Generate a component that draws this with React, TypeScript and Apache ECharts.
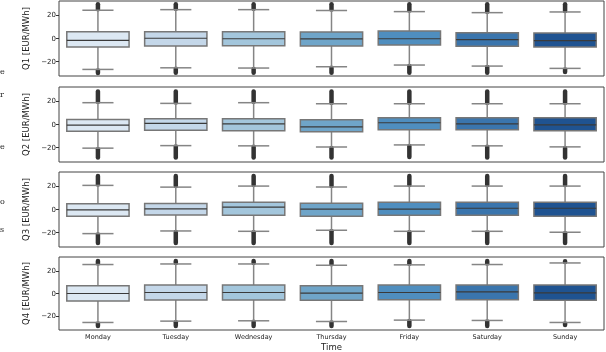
import React, { useEffect, useRef } from "react";
import * as echarts from "echarts";

const days = ["Monday", "Tuesday", "Wednesday", "Thursday", "Friday", "Saturday", "Sunday"];
const quarterNames = ["Q1 [EUR/MWh]", "Q2 [EUR/MWh]", "Q3 [EUR/MWh]", "Q4 [EUR/MWh]"];
const boxColors = ["#dce8f3", "#c4d7e9", "#a3c6dc", "#6fa5c9", "#4f8ebf", "#3a75ad", "#1f5391"];
const yTicks = [-20, 0, 20];

// per day: [lower whisker, Q1, median, Q3, upper whisker]
const statsQ1 = [
  [-26.8, -7.4, -1.6, 5.9, 24.5],
  [-25.4, -6.5, 0.2, 5.9, 25.0],
  [-25.6, -6.3, -0.2, 5.9, 25.0],
  [-24.5, -6.5, -0.4, 5.6, 24.2],
  [-23.0, -5.6, -0.2, 6.5, 23.3],
  [-23.9, -6.8, -1.0, 5.0, 22.4],
  [-25.9, -7.4, -1.9, 4.8, 23.0],
];
const statsQ2 = [
  [-20.5, -5.8, -0.5, 4.3, 18.9],
  [-18.3, -4.9, 0.9, 5.0, 18.3],
  [-18.5, -5.5, 0.6, 4.9, 18.9],
  [-19.4, -6.3, -2.0, 4.1, 18.0],
  [-17.7, -4.6, 1.5, 5.8, 18.0],
  [-18.5, -4.6, 0.6, 5.8, 18.0],
  [-19.4, -5.5, -0.3, 5.8, 18.0],
];
const statsQ3 = [
  [-20.9, -5.8, -0.3, 4.9, 20.9],
  [-18.6, -4.7, 0.5, 5.2, 19.4],
  [-18.9, -5.0, 2.0, 6.3, 20.3],
  [-18.0, -5.8, 0.3, 5.5, 19.4],
  [-18.9, -5.0, 0.3, 6.3, 20.3],
  [-18.9, -5.0, 1.1, 6.3, 20.3],
  [-19.7, -5.8, 1.1, 6.3, 20.3],
];
const statsQ4 = [
  [-25.8, -6.7, 0.0, 7.0, 25.8],
  [-24.6, -5.8, 0.9, 7.5, 26.3],
  [-24.3, -5.8, 0.9, 7.5, 26.3],
  [-25.0, -6.1, 0.3, 7.0, 25.2],
  [-23.7, -5.5, 0.9, 7.5, 25.5],
  [-24.0, -5.5, 1.5, 7.5, 25.8],
  [-25.8, -6.1, 0.6, 7.5, 27.2],
];
// per day: [lowest outlier, highest outlier]
const fliersQ1 = [[-30.8, 30.5], [-30.5, 30.5], [-30.5, 30.5], [-30.5, 30.5], [-30.5, 30.5], [-30.5, 30.5], [-30.0, 30.5]];
const fliersQ2 = [[-29.5, 29.5], [-29.5, 29.5], [-29.5, 29.5], [-29.5, 29.5], [-29.0, 29.5], [-29.5, 29.5], [-29.5, 29.5]];
const fliersQ3 = [[-29.8, 30.0], [-30.0, 30.0], [-30.0, 30.0], [-30.0, 30.0], [-30.0, 30.0], [-30.0, 30.0], [-30.0, 30.0]];
const fliersQ4 = [[-29.8, 29.8], [-29.8, 29.8], [-29.8, 29.8], [-29.8, 29.8], [-29.8, 29.8], [-29.8, 29.8], [-29.0, 29.5]];

const allStats = [statsQ1, statsQ2, statsQ3, statsQ4];
const allFliers = [fliersQ1, fliersQ2, fliersQ3, fliersQ4];

const gridTops = [1, 87, 172, 257];
const gridHeights = [75, 75, 75, 74];
const FONT = "DejaVu Sans";

export default function App() {
  const ref = useRef<HTMLDivElement>(null);
  useEffect(() => {
    if (!ref.current) return;
    const chart = echarts.init(ref.current, null, { renderer: "svg" });
    const grids: any[] = [];
    const xAxes: any[] = [];
    const yAxes: any[] = [];
    const series: any[] = [];
    for (let g = 0; g < 4; g++) {
      grids.push({
        left: 59,
        right: 2,
        top: gridTops[g],
        height: gridHeights[g],
        show: true,
        borderColor: "#444",
        borderWidth: 1,
        backgroundColor: "transparent",
      });
      xAxes.push({
        type: "category",
        gridIndex: g,
        data: days,
        axisLine: { show: false },
        axisTick: { show: true, length: 3, alignWithLabel: true, lineStyle: { color: "#333", width: 1 } },
        axisLabel: {
          show: g === 3,
          fontSize: 6.5,
          fontFamily: FONT,
          color: "#222",
          margin: 3,
        },
        name: g === 3 ? "Time" : "",
        nameLocation: "middle",
        nameGap: 12,
        nameTextStyle: { fontSize: 8.5, fontFamily: FONT, color: "#222" },
        splitLine: { show: false },
      });
      yAxes.push({
        type: "value",
        gridIndex: g,
        min: -32.5,
        max: 32.5,
        axisLine: { show: false },
        axisTick: { show: true, length: 3, customValues: yTicks, lineStyle: { color: "#333", width: 1 } },
        axisLabel: {
          customValues: yTicks,
          fontSize: 7,
          fontFamily: FONT,
          color: "#222",
          margin: 3,
          formatter: (v: number) => (v < 0 ? "\u2212" + Math.abs(v) : String(v)),
        },
        splitLine: { show: false },
        name: quarterNames[g],
        nameLocation: "middle",
        nameRotate: 90,
        nameGap: 20,
        nameTextStyle: { fontSize: 8.5, fontFamily: FONT, color: "#222" },
      });
      const stats = allStats[g];
      const fliers = allFliers[g];
      const data = days.map((_, i) => [i, ...stats[i], fliers[i][0], fliers[i][1]]);
      series.push({
        type: "custom",
        xAxisIndex: g,
        yAxisIndex: g,
        data,
        encode: { x: 0, y: [1, 2, 3, 4, 5, 6, 7] },
        renderItem: (params: any, api: any) => {
          const idx = api.value(0);
          const lo = api.value(1);
          const q1 = api.value(2);
          const med = api.value(3);
          const q3 = api.value(4);
          const hi = api.value(5);
          const fLo = api.value(6);
          const fHi = api.value(7);
          const cx = api.coord([idx, 0])[0];
          const y = (v: number) => api.coord([idx, v])[1];
          const bw = api.size([1, 0])[0] * 0.8;
          const cw = bw / 2;
          const whisk = { stroke: "#858585", lineWidth: 1.5 };
          return {
            type: "group",
            children: [
              { type: "line", shape: { x1: cx, y1: y(hi) - 1, x2: cx, y2: y(fHi) + 1 }, style: { stroke: "#333", lineWidth: 4.5, lineCap: "round" } },
              { type: "line", shape: { x1: cx, y1: y(lo) + 1, x2: cx, y2: y(fLo) - 1 }, style: { stroke: "#333", lineWidth: 4.5, lineCap: "round" } },
              { type: "line", shape: { x1: cx, y1: y(hi), x2: cx, y2: y(q3) }, style: whisk },
              { type: "line", shape: { x1: cx, y1: y(q1), x2: cx, y2: y(lo) }, style: whisk },
              { type: "line", shape: { x1: cx - cw / 2, y1: y(hi), x2: cx + cw / 2, y2: y(hi) }, style: whisk },
              { type: "line", shape: { x1: cx - cw / 2, y1: y(lo), x2: cx + cw / 2, y2: y(lo) }, style: whisk },
              {
                type: "rect",
                shape: { x: cx - bw / 2, y: y(q3), width: bw, height: y(q1) - y(q3) },
                style: { fill: boxColors[params.dataIndex], stroke: "#777", lineWidth: 1.5 },
              },
              { type: "line", shape: { x1: cx - bw / 2, y1: y(med), x2: cx + bw / 2, y2: y(med) }, style: { stroke: "#3a3a3a", lineWidth: 1.2 } },
            ],
          };
        },
      });
    }
    const fragments = [
      { t: "e", y: 67 },
      { t: "r", y: 90 },
      { t: "e", y: 142 },
      { t: "o", y: 197 },
      { t: "s", y: 225 },
    ];
    chart.setOption({
      animation: false,
      grid: grids,
      xAxis: xAxes,
      yAxis: yAxes,
      series,
      graphic: fragments.map((f) => ({
        type: "text",
        left: 0,
        top: f.y,
        style: { text: f.t, fontSize: 8, fontFamily: "DejaVu Serif", fill: "#222" },
      })),
    });
    return () => chart.dispose();
  }, []);
  return <div ref={ref} style={{ position: "fixed", left: 0, top: 0, width: 606, height: 352 }} />;
}
